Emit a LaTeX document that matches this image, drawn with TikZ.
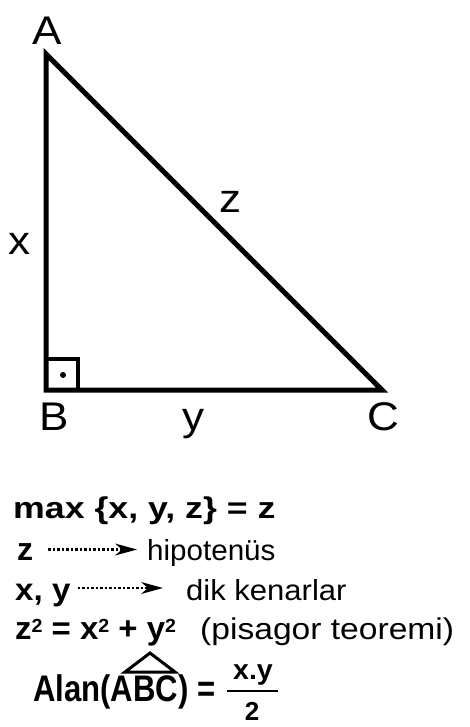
\documentclass[tikz,border=0pt]{standalone}
\usepackage{fontspec}
\usepackage{graphicx}
\setmainfont{Liberation Sans}
\usetikzlibrary{arrows.meta}
\newcommand{\stretchx}[2]{\scalebox{#1}[1]{#2}}
\newcommand{\sqtwo}{\raisebox{7pt}{\fontsize{19}{19}\selectfont 2}}

\begin{document}
\begin{tikzpicture}[x=1pt, y=-1pt,
  >={Stealth[length=22pt, width=12pt, inset=7pt, line width=0pt]},
  side/.style={line width=5pt, line join=miter},
  vlabel/.style={font=\fontsize{40}{44}\selectfont, inner sep=0pt, anchor=base},
  row/.style={inner sep=0pt, anchor=base west},
  boldrow/.style={row, font=\bfseries\fontsize{#1}{#1}\selectfont},
  plainrow/.style={row, font=\fontsize{#1}{#1}\selectfont},
  dotarr/.style={->, line width=2.5pt, dash pattern=on 2.5pt off 2pt},
]
\useasboundingbox (0,0) rectangle (469,727);

% =============================================
% Triangle
% =============================================
\coordinate (A) at (46,54);
\coordinate (B) at (46,390);
\coordinate (C) at (382,390);
\draw[side] (A) -- (B) -- (C) -- cycle;

% right angle mark
\draw[line width=4pt] (B) rectangle ++(32,-31);
\fill (63,375) circle (3pt);

% vertex and side labels
\node[vlabel] (lA) at (47,45) {\stretchx{1.1}{A}};
\node[vlabel] (lB) at (54,430) {\stretchx{1.1}{B}};
\node[vlabel] (lC) at (383,430) {\stretchx{1.1}{C}};
\node[vlabel] (lx) at (20,254) {\stretchx{1.1}{x}};
\node[vlabel] (ly) at (193,430) {\stretchx{1.1}{y}};
\node[vlabel] (lz) at (230,213) {\stretchx{1.1}{z}};

% =============================================
% Notes below
% =============================================
\node[boldrow=30] (maxrow) at (13,518)
  {\stretchx{1.19}{max \{x, y, z\} = z}};

\node[boldrow=32] (zname) at (17,560) {z};
\node[plainrow=29] (hipo) at (147,560) {\stretchx{1.02}{hipotenüs}};
\draw[dotarr, shorten <=15pt, shorten >=10pt]
  ([yshift=10.5pt]zname.base east) -- ([yshift=10.5pt]hipo.base west);

\node[boldrow=31] (xyname) at (15,600) {\stretchx{1.07}{x, y}};
\node[plainrow=29] (dik) at (186,600) {\stretchx{1.07}{dik kenarlar}};
\draw[dotarr, shorten <=7pt, shorten >=23pt]
  ([yshift=12pt]xyname.base east) -- ([yshift=12pt]dik.base west);

\node[boldrow=32] (pyth) at (15,639)
  {\stretchx{1.03}{z\sqtwo{} = x\sqtwo{} + y\sqtwo}};
\node[plainrow=30] (pisa) at (200,639) {\stretchx{1.12}{(pisagor teoremi)}};

% area formula
\node[boldrow=37] (area) at (33,701) {\stretchx{0.84}{Alan(ABC) =}};
\draw[line width=3pt, line join=miter] (125,672) -- (150,653) -- (175,672) -- cycle;

\node[anchor=base, inner sep=0pt, font=\bfseries\fontsize{28}{28}\selectfont] (num)
  at (253,679) {\stretchx{1.02}{x.y}};
\node[anchor=base, inner sep=0pt, font=\bfseries\fontsize{26}{26}\selectfont] (den)
  at (252,720) {2};
\draw[line width=2.5pt] (227,691) -- (278,691);

\end{tikzpicture}
\end{document}
